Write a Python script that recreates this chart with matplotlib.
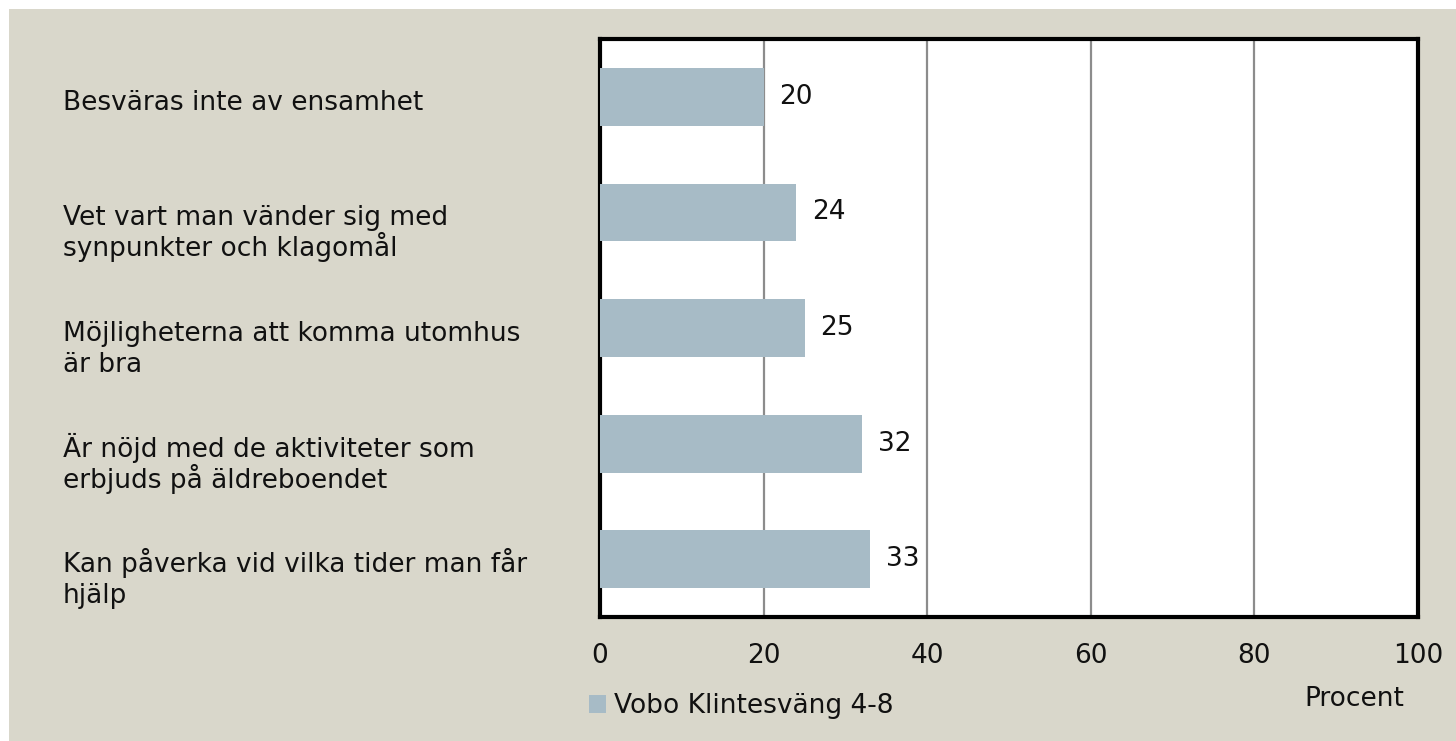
import matplotlib.pyplot as plt
import matplotlib.transforms as mtransforms
from matplotlib.patches import Rectangle

# data
categories = [
    "Besväras inte av ensamhet",
    "Vet vart man vänder sig med\nsynpunkter och klagomål",
    "Möjligheterna att komma utomhus\när bra",
    "Är nöjd med de aktiviteter som\nerbjuds på äldreboendet",
    "Kan påverka vid vilka tider man får\nhjälp",
]
values = [20, 24, 25, 32, 33]
series_name = "Vobo Klintesväng 4-8"
xticks = [0, 20, 40, 60, 80, 100]
xlabel = "Procent"

bg = "#D9D7CB"
bar_col = "#A7BBC6"
fs = 19

W, H = 1456, 741
fig = plt.figure(figsize=(W / 100, H / 100), dpi=100, facecolor="white")
# beige panel, leaving thin white strip on left and top
fig.patches.append(Rectangle((9 / W, 0), 1, 1 - 9 / H, transform=fig.transFigure,
                             facecolor=bg, edgecolor="none", zorder=-10))

ax = fig.add_axes([600 / W, 1 - 617 / H, 818 / W, 578 / H])
ax.set_facecolor("white")

pos = list(range(len(categories)))
bars = ax.barh(pos, values, height=0.5, color=bar_col, label=series_name, zorder=3)
ax.set_xlim(0, 100)
ax.set_ylim(len(categories) - 0.5, -0.5)

ax.set_xticks(xticks)
ax.set_xticklabels([str(t) for t in xticks], fontsize=fs, color="#111111")
ax.tick_params(axis="x", length=0, pad=19)
ax.set_yticks([])
ax.grid(axis="x", color="#8c8c8c", linewidth=1.6, zorder=1)
for s in ax.spines.values():
    s.set_linewidth(3.0)
    s.set_color("black")

# value labels
for b, v in zip(bars, values):
    ax.annotate(str(v), xy=(v, b.get_y() + b.get_height() / 2), xytext=(16 * 0.72, 0),
                textcoords="offset points", ha="left", va="center",
                fontsize=fs, color="#111111")

# category labels on the left, one line at a time
trans = mtransforms.blended_transform_factory(fig.transFigure, ax.transData)
for p, lab in zip(pos, categories):
    for i, line in enumerate(lab.split("\n")):
        ax.annotate(line, xy=(63 / W, p), xycoords=trans,
                    xytext=(0, -(13 + i * 31) * 0.72), textcoords="offset points",
                    ha="left", va="baseline", fontsize=fs, color="#111111",
                    annotation_clip=False)

fig.text(1304 / W, 1 - 706 / H, xlabel, ha="left", va="baseline", fontsize=fs, color="#111111")

fig.legend(handles=[bars], labels=[series_name], loc="center left",
           bbox_to_anchor=(589 / W, 1 - 706 / H), frameon=False, fontsize=fs,
           handlelength=0.65, handleheight=0.65, handletextpad=0.3, borderpad=0,
           borderaxespad=0, labelcolor="#111111")

fig.savefig("out.png", dpi=100, facecolor=fig.get_facecolor())
